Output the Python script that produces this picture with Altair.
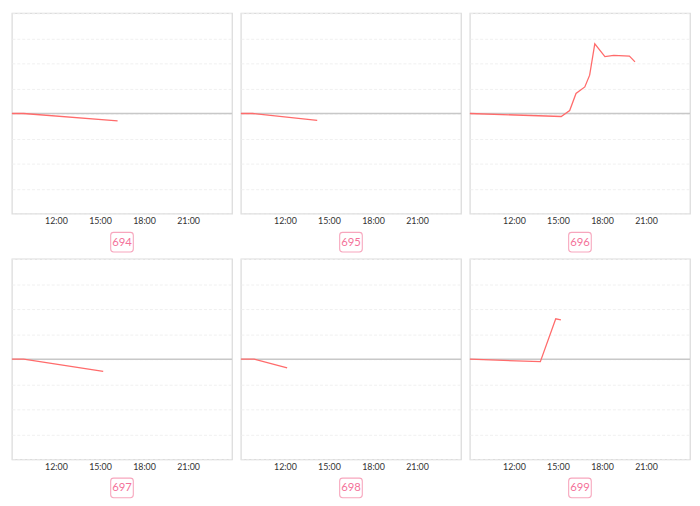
import altair as alt
import pandas as pd

# ---- data ----
panel_ids = ["694", "695", "696", "697", "698", "699"]

t694 = [9.0, 9.8, 16.2]
v694 = [0.0, 0.0, -0.29]

t695 = [9.0, 9.8, 14.2]
v695 = [0.0, 0.0, -0.27]

t696 = [9.0, 15.22, 15.8, 16.23, 16.83, 17.16, 17.51, 18.2, 18.8, 19.87, 20.25]
v696 = [0.0, -0.12, 0.12, 0.80, 1.06, 1.53, 2.78, 2.27, 2.32, 2.29, 2.06]

t697 = [9.0, 9.8, 15.22]
v697 = [0.0, 0.0, -0.49]

t698 = [9.0, 9.9, 12.15]
v698 = [0.0, 0.0, -0.35]

t699 = [9.0, 13.8, 14.85, 15.2]
v699 = [0.0, -0.10, 1.61, 1.57]

times = [t694, t695, t696, t697, t698, t699]
values = [v694, v695, v696, v697, v698, v699]

x_domain = [9, 24]
tick_hours = [12, 15, 18, 21]
tick_labels = ["12:00", "15:00", "18:00", "21:00"]
y_domain = [-4, 4]
grid_values = [-4, -3, -2, -1, 0, 1, 2, 3, 4]

# ---- styling ----
W, H = 224, 204
LINE_COLOR = "#ff6b6b"
PINK_TEXT = "#f4729a"
PINK_BORDER = "#f7a6bd"
FONT = "Lato"

rows = []
for pid, ts, vs in zip(panel_ids, times, values):
    for t, v in zip(ts, vs):
        rows.append({"panel": pid, "hour": t, "value": v})
df = pd.DataFrame(rows)
labels_df = pd.DataFrame({"panel": panel_ids})
zero_df = pd.DataFrame({"z": [0.0]})

label_expr = ""
for h, lab in zip(tick_hours, tick_labels):
    label_expr += f"datum.value == {h} ? '{lab}' : "
label_expr += "''"

x_enc = alt.X(
    "hour:Q",
    scale=alt.Scale(domain=x_domain, nice=False, zero=False),
    axis=alt.Axis(
        values=tick_hours, labelExpr=label_expr, title=None, grid=False,
        ticks=False, domain=False, labelFontSize=9, labelColor="#333333",
        labelFont=FONT, labelPadding=3,
    ),
)
y_scale = alt.Scale(domain=y_domain, nice=False)
y_axis = alt.Axis(
    values=grid_values, labels=False, ticks=False, domain=False,
    title=None, grid=True, gridColor="#f0f0f0", gridDash=[3, 2],
    gridWidth=1,
)


def panel(pid):
    zero = alt.Chart(zero_df).mark_rule(color="#c8c8c8", strokeWidth=1.6).encode(
        y=alt.Y("z:Q", scale=y_scale, axis=y_axis)
    )
    line = (
        alt.Chart(df)
        .transform_filter(alt.datum.panel == pid)
        .mark_line(color=LINE_COLOR, strokeWidth=1.3)
        .encode(x=x_enc, y=alt.Y("value:Q", scale=y_scale, axis=y_axis))
    )
    box = (
        alt.Chart(labels_df)
        .transform_filter(alt.datum.panel == pid)
        .mark_rect(fill="white", stroke=PINK_BORDER, strokeWidth=1.1, cornerRadius=3)
        .encode(
            x=alt.value(W / 2 - 11.5), x2=alt.value(W / 2 + 11.5),
            y=alt.value(H + 19), y2=alt.value(H + 39),
        )
    )
    txt = (
        alt.Chart(labels_df)
        .transform_filter(alt.datum.panel == pid)
        .mark_text(color=PINK_TEXT, fontSize=11.5, font=FONT, baseline="middle", align="center")
        .encode(x=alt.value(W / 2), y=alt.value(H + 29.5), text="panel:N")
    )
    return alt.layer(zero, line, box, txt).properties(width=W, height=H)


chart = (
    alt.concat(
        *[panel(p) for p in panel_ids],
        columns=3,
        spacing={"row": 46, "column": 9},
        bounds="flush",
    )
    .properties(padding=0, background="white")
    .configure_view(stroke="#dcdcdc", strokeWidth=1.3)
)

chart.save("out.html", embed_options={"renderer": "svg", "actions": False})
